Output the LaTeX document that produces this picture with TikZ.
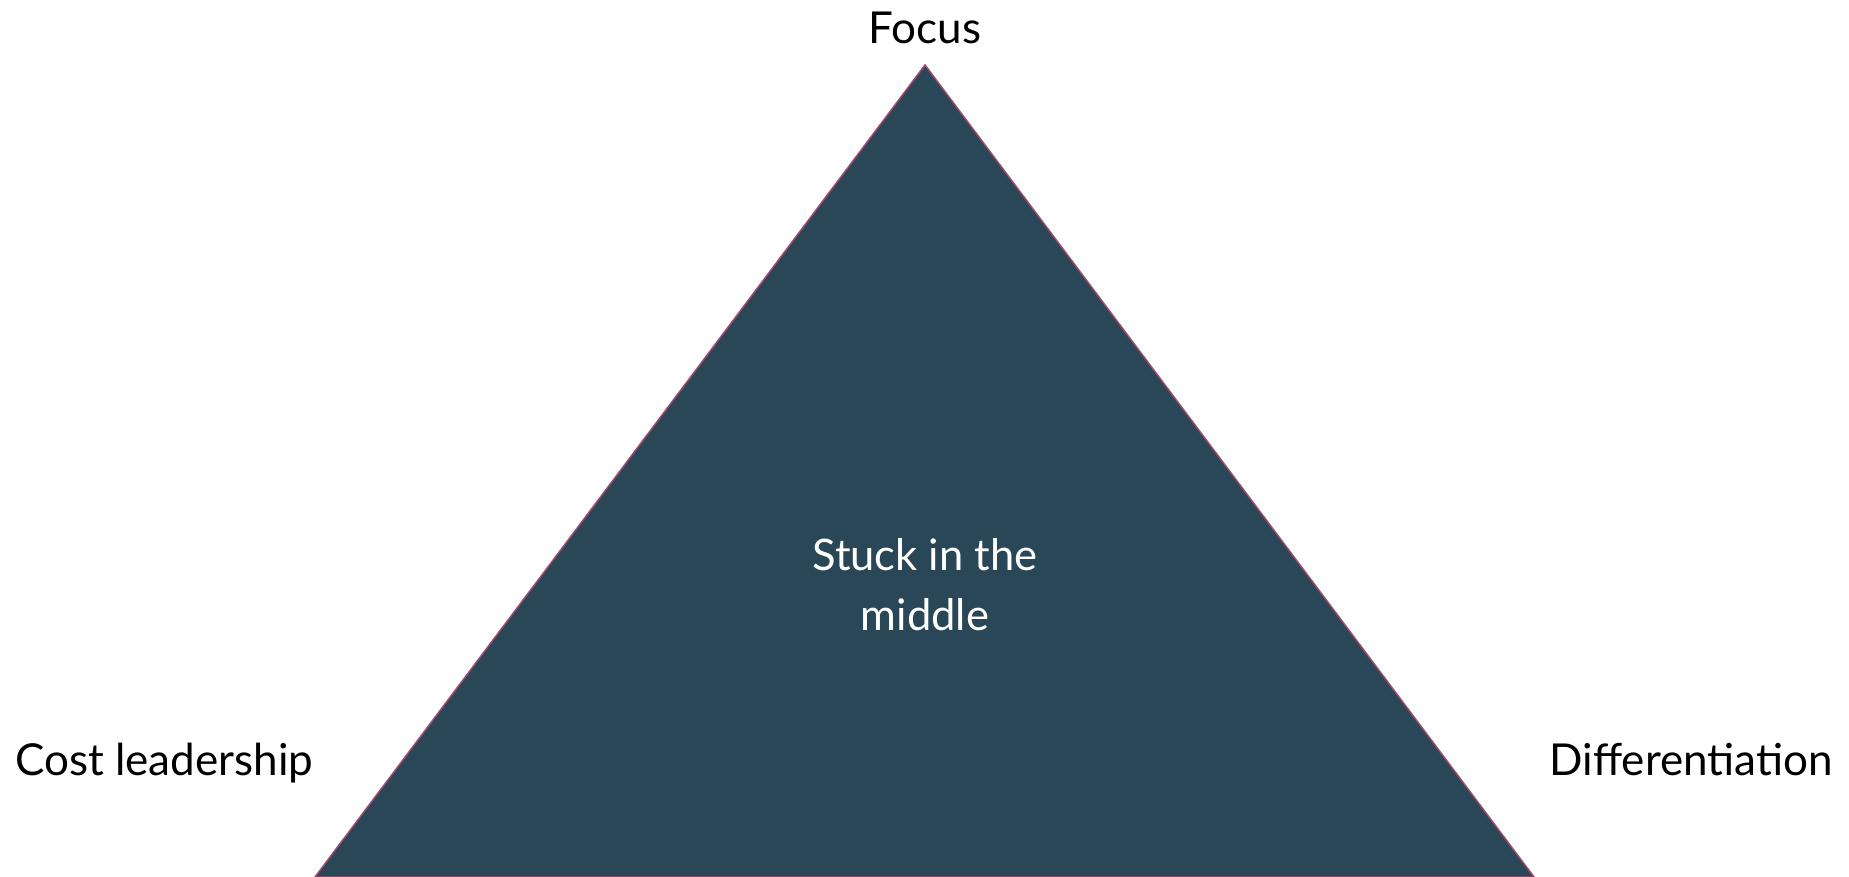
\documentclass[tikz,border=0pt]{standalone}
\usepackage{fontspec}
\setmainfont{Lato}
\definecolor{trifill}{HTML}{294757}
\definecolor{triedge}{HTML}{9E4A70}
\begin{document}
\begin{tikzpicture}[x=1pt,y=-1pt,
  lbl/.style={inner sep=0pt, font=\fontsize{44}{52}\selectfont, text=black},
  inner/.style={inner sep=0pt, align=center, text=white, font=\fontsize{43.5}{60}\selectfont}]
\useasboundingbox (0,0) rectangle (1849,876);
\coordinate (top) at (925,65);
\coordinate (bl) at (315,877);
\coordinate (br) at (1534,877);
\draw[fill=trifill, draw=triedge, line width=1.5pt] (top) -- (br) -- (bl) -- cycle;
\node[lbl, anchor=base] (focus) at (925,43) {Focus};
\node[lbl, anchor=base west] (cost) at (15,775) {Cost leadership};
\node[lbl, anchor=base east] (diff) at (1833,775) {Differentiation};
\node[inner, anchor=base] (stuck) at (925,630) {Stuck in the\\middle};
\end{tikzpicture}
\end{document}
